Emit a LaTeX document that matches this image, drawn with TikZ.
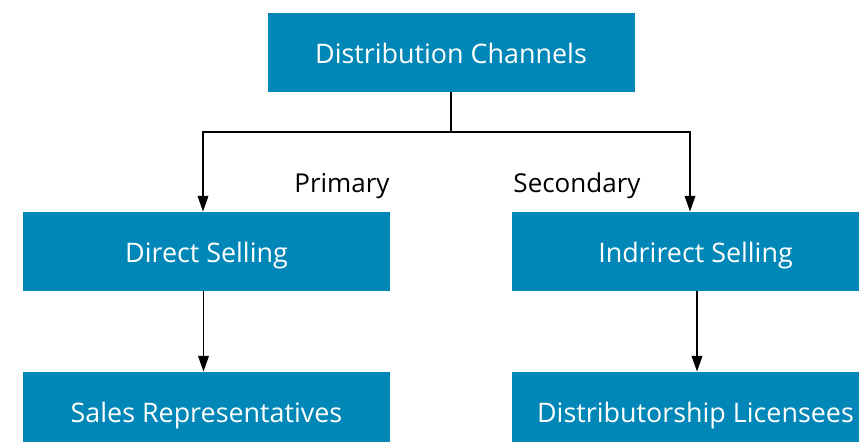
\documentclass[tikz,border=0pt]{standalone}
\usepackage{fontspec}
\setmainfont{Open Sans}
\usetikzlibrary{arrows.meta}

\definecolor{channelblue}{HTML}{0086B7}

\tikzset{
    box/.style={fill=channelblue, text=white, minimum width=7.34cm, minimum height=1.58cm, inner sep=0pt, text height=2.3ex, text depth=0pt, font=\fontsize{15.3}{18}\selectfont},
    link/.style={line width=1.1pt, -{Triangle[length=9pt,width=6pt]}},
    tag/.style={font=\fontsize{14.8}{18}\selectfont}
}

\begin{document}
\begin{tikzpicture}
                \useasboundingbox (0,0) rectangle (17.18,8.84);

                \node (channels) at (9.02,7.79) [box] {Distribution Channels};
                \node (direct) at (4.13,3.81) [box] {Direct Selling};
                \node (indirect) at (13.91,3.81) [box] {Indrirect Selling};
                \node (sales) at (4.13,0.61) [box] {Sales Representatives};
                \node (licensees) at (13.91,0.61) [box] {Distributorship Licensees};

                \node (primary) at (6.84,5.12) [tag] {Primary};
                \node (secondary) at (11.54,5.12) [tag] {Secondary};

                \coordinate (split) at (9.02,6.2);
                \draw [line width=1.1pt] (channels) -- (split);
                \draw [link] (split) -| ([xshift=-0.07cm]direct.north);
                \draw [link] (split) -| ([xshift=-0.11cm]indirect.north);
                \draw [link] ([xshift=-0.06cm]direct.south) -- ([xshift=-0.06cm]sales.north);
                \draw [link] ([xshift=0.03cm]indirect.south) -- ([xshift=0.03cm]licensees.north);
            \end{tikzpicture}
\end{document}
